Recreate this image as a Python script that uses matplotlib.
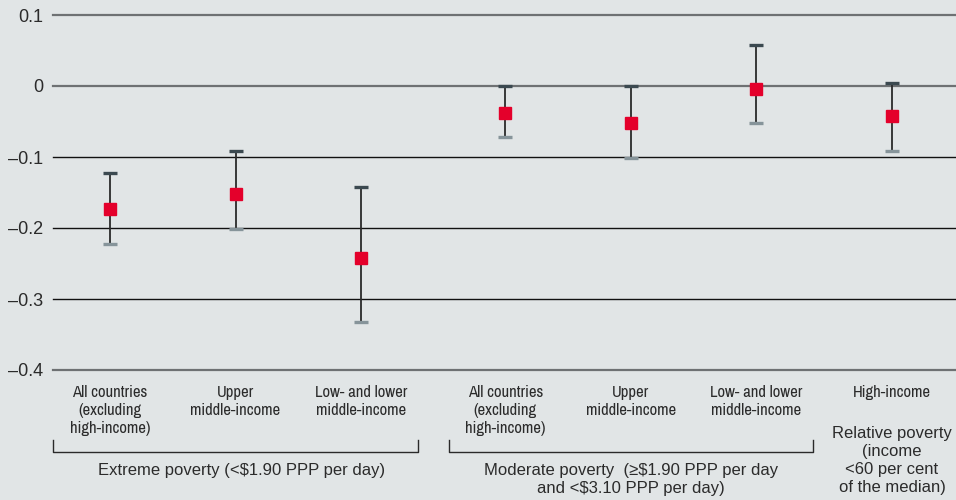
import matplotlib.pyplot as plt
import matplotlib.transforms as mtransforms
from matplotlib import font_manager

# Data
categories = ["All countries\n(excluding\nhigh-income)", "Upper\nmiddle-income",
              "Low- and lower\nmiddle-income",
              "All countries\n(excluding\nhigh-income)", "Upper\nmiddle-income",
              "Low- and lower\nmiddle-income", "High-income"]
estimate = [-0.173, -0.152, -0.242, -0.038, -0.052, -0.004, -0.042]
upper = [-0.122, -0.092, -0.142, 0.0, 0.0, 0.058, 0.004]
lower = [-0.222, -0.202, -0.332, -0.072, -0.102, -0.052, -0.092]
group_labels = ["Extreme poverty (<$1.90 PPP per day)",
                "Moderate poverty  (\u2265$1.90 PPP per day\nand <$3.10 PPP per day)",
                "Relative poverty\n(income\n<60 per cent\nof the median)"]
yticks = [0.1, 0, -0.1, -0.2, -0.3, -0.4]

xpos = [0, 1, 2, 3.15, 4.15, 5.15, 6.23]

bg = "#e1e5e6"
red = "#e4002b"
txt = "#2b2b2b"

# look for a regular-weight condensed face on the system
cond = [f for f in font_manager.fontManager.ttflist
        if ("Narrow" in f.name or "Condensed" in f.name or f.stretch in ("condensed", "semi-condensed"))
        and f.weight in (400, "normal", "regular", "book") and f.style == "normal"]
cond.sort(key=lambda f: ("Narrow" not in f.name, f.name))
plt.rcParams["font.family"] = ["Liberation Sans", "DejaVu Sans"]

fig = plt.figure(figsize=(9.56, 5), dpi=100, facecolor=bg)
ax = fig.add_axes([53 / 956, 1 - 370 / 500, 1 - 53 / 956, 355 / 500])
ax.set_facecolor(bg)
ax.set_xlim(-0.454, 6.74)
ax.set_ylim(-0.4, 0.1)
for s in ax.spines.values():
    s.set_visible(False)

# horizontal grid lines
for v in yticks:
    if v in (0.1, 0, -0.4):
        ax.axhline(v, color="#6e7173", lw=1.6, clip_on=False, zorder=1)
    else:
        ax.axhline(v, color="#111111", lw=1.0, clip_on=False, zorder=1)

ax.set_yticks(yticks)
ax.set_yticklabels(["0.1", "0"] + ["\u2013" + f"{abs(v):.1f}" for v in yticks[2:]])
ax.tick_params(axis="y", length=0, pad=7, labelsize=13, labelcolor=txt)
ax.set_xticks([])

# error bars with two-tone caps
for x, e, u, l in zip(xpos, estimate, upper, lower):
    ax.plot([x, x], [l, u], color="#2a2a2a", lw=1.3, zorder=2, solid_capstyle="butt")
ax.plot(xpos, upper, ls="none", marker="_", ms=10.5, mew=2.4, color="#3b4950", zorder=3)
ax.plot(xpos, lower, ls="none", marker="_", ms=10.5, mew=2.4, color="#86949a", zorder=3)
ax.plot(xpos, estimate, ls="none", marker="s", ms=8.5, color=red, mec=red, zorder=4)

# category labels under the axis
trans = mtransforms.blended_transform_factory(ax.transData, fig.transFigure)
if cond:
    cat_font = dict(fontproperties=font_manager.FontProperties(fname=cond[0].fname, size=12))
else:
    cat_font = dict(family="DejaVu Sans", fontsize=10)
for x, c in zip(xpos, categories):
    ax.text(x, 1 - 385 / 500, c, transform=trans, ha="center", va="top",
            color=txt, linespacing=1.27, **cat_font)

# brackets
brackets = [(xpos[0] - 0.454, xpos[2] + 0.45), (xpos[3] - 0.45, xpos[5] + 0.45)]
y_top = 1 - 440 / 500
y_bot = 1 - 452 / 500
for a, b in brackets:
    ax.plot([a, a, b, b], [y_top, y_bot, y_bot, y_top], transform=trans,
            color="#2a2a2a", lw=1.0, clip_on=False)

centers = [(brackets[0][0] + brackets[0][1]) / 2 + 0.05,
           (brackets[1][0] + brackets[1][1]) / 2, xpos[6]]
label_tops = [1 - 463 / 500, 1 - 463 / 500, 1 - 426 / 500]
for x, y, g in zip(centers, label_tops, group_labels):
    ax.text(x, y, g, transform=trans, ha="center", va="top", fontsize=12,
            color=txt, linespacing=1.25)

fig.savefig("out.png", dpi=100, facecolor=bg)
